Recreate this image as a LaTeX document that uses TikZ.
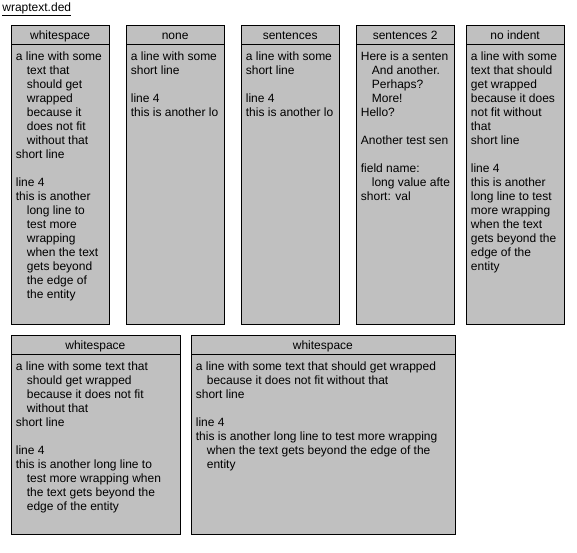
\documentclass[tikz,border=0pt]{standalone}
\usepackage{fontspec}
\setmainfont{Liberation Sans}
\usetikzlibrary{positioning}
\definecolor{entgray}{RGB}{192,192,192}
\newcommand{\ind}{\hspace*{11pt}}

\begin{document}
\begin{tikzpicture}[x=1pt,y=-1pt,line width=0.8pt,
  every node/.style={font=\fontsize{12}{14}\selectfont},
  head/.style={draw,fill=entgray,anchor=north west,minimum height=19,inner sep=0,text height=8.6pt,text depth=0pt},
  body/.style={draw,fill=entgray,anchor=north west,inner sep=0},
  lines/.style={anchor=base west,align=left,inner sep=0}]
  \useasboundingbox (0,0) rectangle (577,552);
  \node[anchor=base west,inner sep=0] (title) at (2,11.5) {\underline{wraptext.ded}};

  % first row (text nodes sit on the baseline of their last line)
  \node[body,minimum width=98.5,minimum height=280] (b1) at (10.5,44) {};
  \node[head,minimum width=98.5] (h1) at (10.5,25) {whitespace};
  \node[lines] (t1) at (15.5,298) {a line with some\\ \ind text that\\ \ind should get\\ \ind wrapped\\
    \ind because it\\ \ind does not fit\\ \ind without that\\ short line\\ \mbox{}\\ line 4\\
    this is another\\ \ind long line to\\ \ind test more\\ \ind wrapping\\ \ind when the text\\
    \ind gets beyond\\ \ind the edge of\\ \ind the entity};

  \node[body,minimum width=98.5,minimum height=280] (b2) at (125.5,44) {};
  \node[head,minimum width=98.5] (h2) at (125.5,25) {none};
  \begin{scope}
    \clip (b2.north west) rectangle ([xshift=-5]b2.south east);
    \node[lines] (t2) at (130.5,116) {a line with some\\ short line\\ \mbox{}\\ line 4\\ this is another lo};
  \end{scope}

  \node[body,minimum width=98.5,minimum height=280] (b3) at (240.5,44) {};
  \node[head,minimum width=98.5] (h3) at (240.5,25) {sentences};
  \begin{scope}
    \clip (b3.north west) rectangle ([xshift=-5]b3.south east);
    \node[lines] (t3) at (245.5,116) {a line with some\\ short line\\ \mbox{}\\ line 4\\ this is another lo};
  \end{scope}

  \node[body,minimum width=98.5,minimum height=280] (b4) at (355.5,44) {};
  \node[head,minimum width=98.5] (h4) at (355.5,25) {sentences 2};
  \begin{scope}
    \clip (b4.north west) rectangle ([xshift=-5]b4.south east);
    \node[lines] (t4) at (360.5,200) {Here is a senten\\ \ind And another.\\ \ind Perhaps?\\ \ind More!\\
      Hello?\\ \mbox{}\\ Another test sen\\ \mbox{}\\ field name:\\ \ind long value afte\\ short: val};
  \end{scope}

  \node[body,minimum width=98.5,minimum height=280] (b5) at (465.5,44) {};
  \node[head,minimum width=98.5] (h5) at (465.5,25) {no indent};
  \node[lines] (t5) at (470.5,270) {a line with some\\ text that should\\ get wrapped\\ because it does\\
    not fit without\\ that\\ short line\\ \mbox{}\\ line 4\\ this is another\\ long line to test\\
    more wrapping\\ when the text\\ gets beyond the\\ edge of the\\ entity};

  % second row
  \node[body,minimum width=169,minimum height=180] (b6) at (10.5,354) {};
  \node[head,minimum width=169] (h6) at (10.5,335) {whitespace};
  \node[lines] (t6) at (15.5,510) {a line with some text that\\ \ind should get wrapped\\
    \ind because it does not fit\\ \ind without that\\ short line\\ \mbox{}\\ line 4\\
    this is another long line to\\ \ind test more wrapping when\\ \ind the text gets beyond the\\
    \ind edge of the entity};

  \node[body,minimum width=264,minimum height=180] (b7) at (190.5,354) {};
  \node[head,minimum width=264] (h7) at (190.5,335) {whitespace};
  \node[lines] (t7) at (195.5,468) {a line with some text that should get wrapped\\
    \ind because it does not fit without that\\ short line\\ \mbox{}\\ line 4\\
    this is another long line to test more wrapping\\ \ind when the text gets beyond the edge of the\\
    \ind entity};
\end{tikzpicture}
\end{document}
